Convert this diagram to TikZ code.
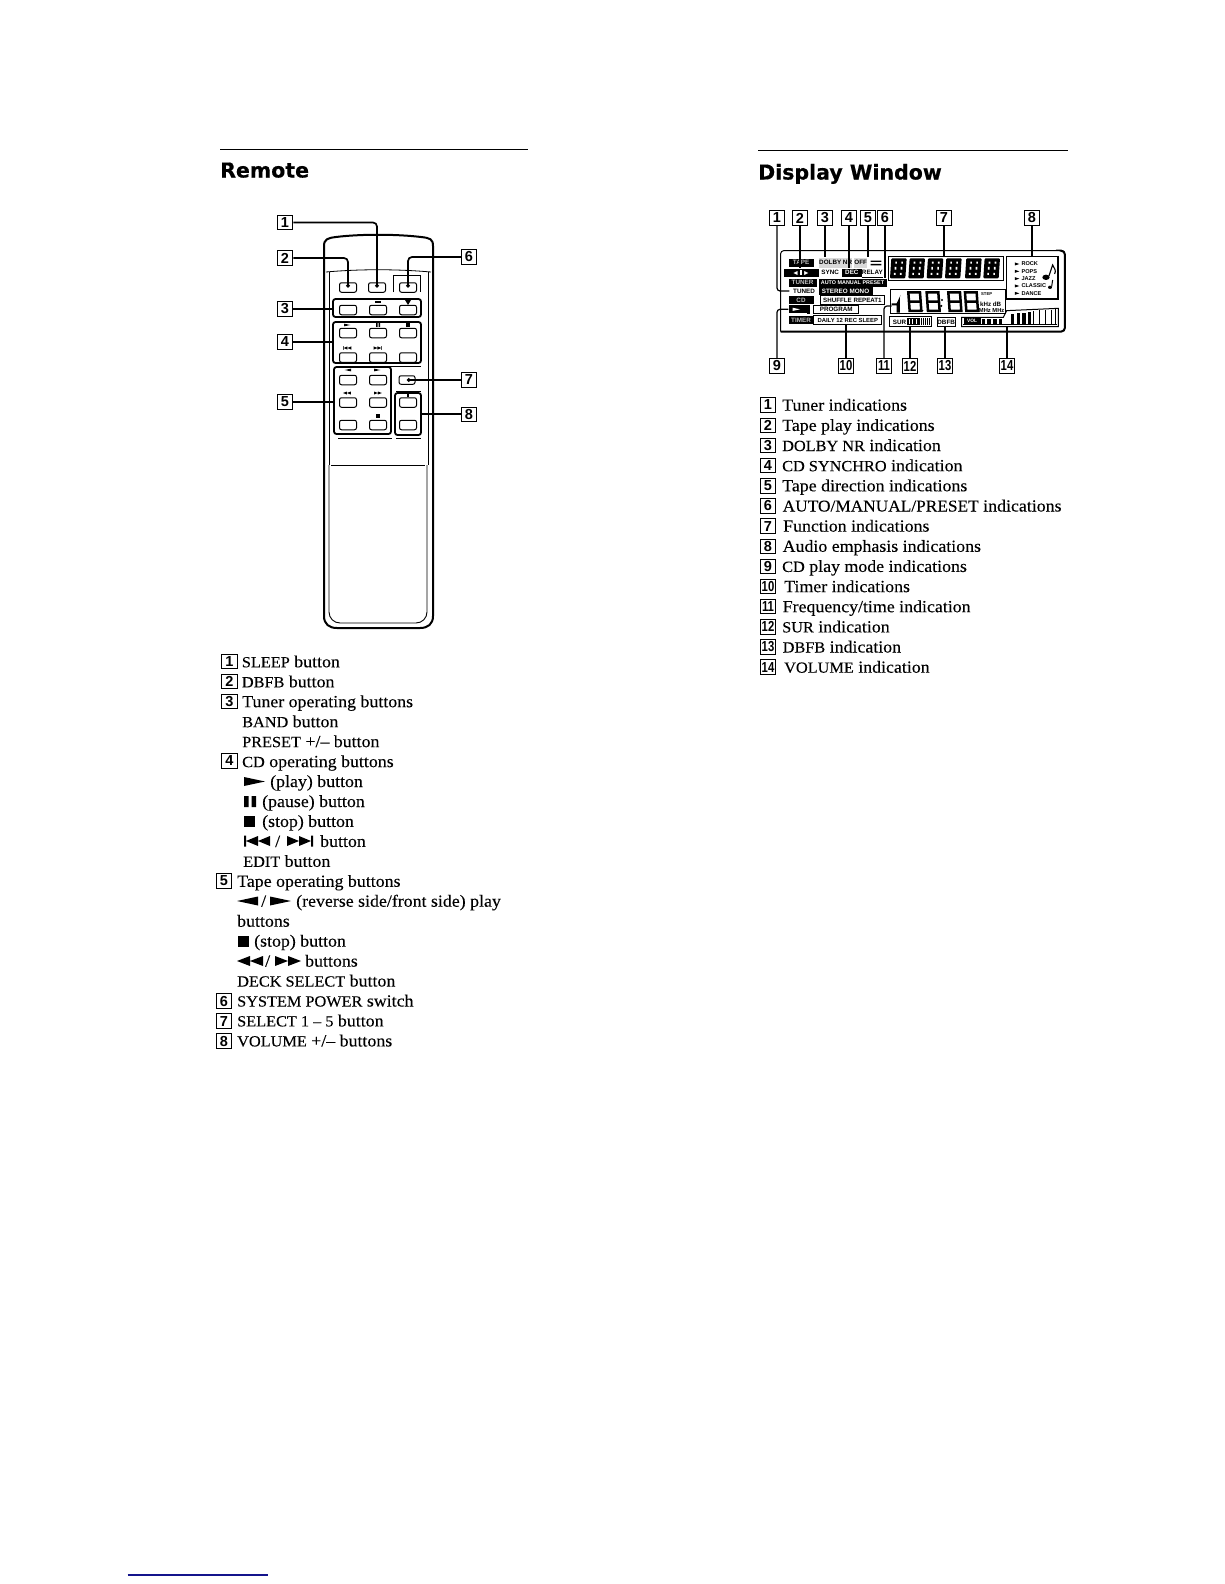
\documentclass[tikz,border=0pt]{standalone}
\usepackage{fontspec}
\usepackage{graphicx}
\usetikzlibrary{arrows.meta}
\setmainfont[FakeStretch=1.05,FakeBold=.12]{Liberation Serif}
\newfontfamily\headfam[BoldFeatures={FakeBold=.5}]{DejaVu Sans}
\newfontfamily\tagfam{Liberation Sans}
\newcommand\capz[1]{{\fontsize{15.5}{15.5}\selectfont #1}}
\tikzset{
  rule/.style={line width=1.5pt,black},
  head/.style={anchor=base west,inner sep=0pt,font=\headfam\bfseries\fontsize{20.5}{20.5}\selectfont},
  tagbox/.style={draw=black,line width=1pt,inner sep=0pt,minimum width=15.5pt,minimum height=14.5pt,font=\tagfam\bfseries\fontsize{14.5}{14.5}\selectfont},
  listtext/.style={anchor=base west,inner sep=0pt,font=\fontsize{17}{17}\selectfont},
  btn/.style={draw=black,line width=1pt,rounded corners=2pt,minimum width=17pt,minimum height=9.5pt,inner sep=0pt},
  grp/.style={draw=black,line width=1.8pt,rounded corners=2.5pt,inner sep=0pt},
  conn/.style={line width=1.7pt,black,rounded corners=4pt},
  dconn/.style={line width=1.2pt,black,rounded corners=3pt},
  ind/.style={inner sep=0pt,anchor=west,minimum height=8pt,font=\tagfam\bfseries\fontsize{6.3}{6.3}\selectfont},
  indw/.style={ind,fill=black,text=white},
  indk/.style={ind,fill=white,text=black},
  symright/.pic={\fill (0,-4.5)--(21,0)--(0,4.5)--cycle;},
  symleft/.pic={\fill (0,-4.5)--(-21,0)--(0,4.5)--cycle;},
  sympause/.pic={\fill (0,-5.5) rectangle (4.5,5.5) (7.5,-5.5) rectangle (12,5.5);},
  symstop/.pic={\fill (0,-5.5) rectangle (11,5.5);},
  symprev/.pic={\fill (0,-5.5) rectangle (2,5.5) (2,0)--(14,-5)--(14,0)--(26,-5)--(26,5)--(14,0)--(14,5)--cycle;},
  symnext/.pic={\fill (26,-5.5) rectangle (28,5.5) (26,0)--(14,-5)--(14,0)--(2,-5)--(2,5)--(14,0)--(14,5)--cycle;},
  symrew/.pic={\fill (0,0)--(13,-5)--(13,0)--(26,-5)--(26,5)--(13,0)--(13,5)--cycle;},
  symff/.pic={\fill (26,0)--(13,-5)--(13,0)--(0,-5)--(0,5)--(13,0)--(13,5)--cycle;},
  seg/.pic={
    \fill[black,rounded corners=1pt] (-20,30)--(26,30)--(30,-30)--(-16,-30)--cycle;
    \fill[white] (-8,14) rectangle (-3,20) (10,14) rectangle (15,20) (-6,-4) rectangle (-1,4) (12,-4) rectangle (17,4) (-4,-20) rectangle (1,-14) (14,-20) rectangle (19,-14);
  },
  bigeight/.pic={
    \draw[black,line width=2.5pt,line join=miter] (-11,28)--(24,28)--(20,-28)--(-15,-28)--cycle (-13,0)--(22,0);
  },
}
\newcommand\litem[4]{\node[listtext] (#1) at (#2,#3) {#4};}
\newcommand\tagat[4]{\node[tagbox] (#1) at (#2,#3) {#4};}
\newcommand\twod[1]{\scalebox{.78}[1]{#1}}
\begin{document}
\begin{tikzpicture}[x=1pt,y=-1pt]
\path[use as bounding box,fill=white] (0,0) rectangle (1224,1584);

% headings
\node[inner sep=0pt] (ruleAl) at (219.5,149.5) {};
\node[inner sep=0pt] (ruleAr) at (529,149.5) {};
\node[inner sep=0pt] (ruleBl) at (757.7,150.5) {};
\node[inner sep=0pt] (ruleBr) at (1069,150.5) {};
\draw[rule] (ruleAl) -- (ruleAr);
\draw[rule] (ruleBl) -- (ruleBr);
\node[head] (hRemote) at (220,177.5) {Remote};
\node[head] (hDisplay) at (758,179.5) {Display Window};

% ---------- remote body
\draw[black,line width=2pt] (324,616)--(324,246) .. controls (324,239) and (328,238) .. (336,237) .. controls (360,234) and (396,234) .. (421,237) .. controls (430,238) and (433,239) .. (433,246)--(433,616) .. controls (433,624) and (428,628) .. (420,628)--(337,628) .. controls (329,628) and (324,624) .. (324,616)--cycle;
\draw[black,line width=.8pt] (326,272) .. controls (360,269) and (396,269) .. (431,272);
\draw[black,line width=.8pt] (329,272)--(329,465);
\draw[black,line width=.8pt] (428,272)--(428,465);
\draw[black,line width=.9pt] (331,465)--(425,465);
\draw[black,line width=.9pt,rounded corners=11pt] (329,465)--(329,623)--(427,623)--(427,465);
\draw[black,line width=.8pt] (393,292)--(393,275)--(420,275)--(420,292);
\draw[black,line width=1pt] (338,438)--(392,438);
\draw[black,line width=1pt] (396,438)--(421,438);
\draw[black,line width=.8pt] (396,391)--(421,391);
\draw[black,line width=.8pt] (363,366)--(421,366);

% groups
\node[grp,minimum width=88pt,minimum height=18pt] (box3) at (377,308) {};
\node[grp,minimum width=88pt,minimum height=41pt] (box4) at (377,342.5) {};
\node[grp,minimum width=57pt,minimum height=67pt] (box5) at (362.5,400.5) {};
\node[grp,minimum width=26pt,minimum height=42pt] (box8) at (408,414) {};

% buttons
\node[btn] (bDbfb) at (348,287.5) {};
\node[btn] (bSleep) at (377,287.5) {};
\node[btn] (bPower) at (408,287.5) {};
\foreach \n/\x in {a/348,b/378,c/408}{\node[btn] (t\n) at (\x,310) {};}
\foreach \n/\x in {a/348,b/378,c/408}{\node[btn] (cd\n) at (\x,333) {};}
\foreach \n/\x in {a/348,b/378,c/408}{\node[btn] (ce\n) at (\x,357.5) {};}
\foreach \n/\x in {a/348,b/378}{
  \node[btn] (tf\n) at (\x,380) {};
  \node[btn] (tg\n) at (\x,402.5) {};
  \node[btn] (th\n) at (\x,425) {};
}
\node[btn,minimum width=16pt,minimum height=8.5pt] (bSelect) at (407,380) {};
\node[btn] (bVolUp) at (408,402.5) {};
\node[btn] (bVolDn) at (408,425) {};

% small marks above buttons
\fill (375,301) rectangle (381,303);
\fill (405,300)--(411,300)--(408,305)--cycle;
\pic[scale=.3] at (344,325) {symright};
\pic[scale=.35] at (376,325) {sympause};
\pic[scale=.4] at (406,325) {symstop};
\pic[scale=.32] at (343,348) {symprev};
\pic[scale=.32] at (373,348) {symnext};
\pic[scale=.3] at (351,370) {symleft};
\pic[scale=.3] at (374,370) {symright};
\pic[scale=.3] at (343,393) {symrew};
\pic[scale=.3] at (374,393) {symff};
\pic[scale=.4] at (376,416) {symstop};
\fill (407,392.5) rectangle (408.5,397);

% remote tags
\tagat{ra}{285}{222.5}{1}
\tagat{rb}{285}{258}{2}
\tagat{rc}{285}{309}{3}
\tagat{rd}{285}{342}{4}
\tagat{re}{285}{402}{5}
\tagat{rf}{469}{257}{6}
\tagat{rg}{469}{380}{7}
\tagat{rh}{469}{414.5}{8}

\draw[conn,-{Circle[length=3.5pt,width=3.5pt]}] (ra.east) -| (bSleep.center);
\draw[conn,-{Circle[length=3.5pt,width=3.5pt]}] (rb.east) -| (bDbfb.center);
\draw[conn,-{Circle[length=3.5pt,width=3.5pt]}] (rf.west) -| (bPower.center);
\draw[conn] (rc.east) -- (rc.east -| box3.west);
\draw[conn] (rd.east) -- (rd.east -| box4.west);
\draw[conn] (re.east) -- (re.east -| box5.west);
\draw[conn,{Circle[length=3.5pt,width=3.5pt]}-] (bSelect.center) -- (rg.west);
\draw[conn] (box8.east) -- (box8.east -| rh.west);

% ---------- display window
\begin{scope}[shift={(750,200)},x=.3333pt,y=-.3333pt]
  \draw[black,line width=1pt,rounded corners=3pt] (92,395)--(92,152)--(940,152);
  \draw[black,line width=2pt,rounded corners=4pt] (935,152)--(945,152)--(945,395)--(92,395);
  % left column black indicators
  \node[indw,minimum width=25pt,text=gray!50] (dTape) at (115,188) {TAPE};
  \node[indw,minimum width=35pt,font=\tagfam\bfseries\fontsize{7}{7}\selectfont] (dDir) at (100,218) {\char"25C4\,\rule{1.4pt}{5pt}\,\char"25BA};
  \node[indw,minimum width=28pt,text=gray!50] (dTuner) at (115,248) {TUNER};
  \node[indk,minimum width=29pt] (dTuned) at (118,273) {TUNED};
  \node[indw,minimum width=25pt,text=gray!50] (dCd) at (115,300) {CD};
  \node[indw,minimum width=21pt] (dPlay) at (115,328) {};
  \pic[white,scale=1.05] at (128,328) {symright};
  \fill (170,316) rectangle (180,342);
  \node[indw,minimum width=25pt,text=gray!50] (dTimer) at (115,360) {TIMER};
  % second column
  \node[indk,minimum width=32pt,minimum height=10pt,fill=gray!30] (dDolby) at (207,188) {DOLBY NR};
  \node[indk,minimum width=13pt,minimum height=10pt,fill=gray!30] (dOff) at (312,188) {OFF};
  \fill (362,182) rectangle (394,186) (362,192) rectangle (394,196);
  \node[indk,minimum width=22pt] (dSync) at (207,218) {SYNC};
  \node[indw,minimum width=20pt] (dDec) at (275,218) {DEC};
  \node[indk,minimum width=21pt] (dRelay) at (335,218) {RELAY};
  \draw[black,line width=.6pt] (dRelay.south west) -- (dRelay.south east);
  \node[indw,minimum width=68pt,font=\tagfam\bfseries\fontsize{5.4}{5.4}\selectfont] (dAuto) at (205,248) {AUTO MANUAL PRESET};
  \node[indw,minimum width=54pt] (dStereo) at (205,273) {STEREO MONO};
  \node[indk,draw=black,line width=.9pt,minimum width=64pt,minimum height=9pt,font=\tagfam\bfseries\fontsize{6.2}{6.2}\selectfont] (dShuffle) at (210,301) {SHUFFLE REPEAT1};
  \node[indk,draw=black,line width=.9pt,minimum width=45pt,minimum height=8.5pt] (dProgram) at (190,328) {PROGRAM};
  \node[indk,draw=black,line width=.9pt,minimum width=68pt,minimum height=9pt,font=\tagfam\bfseries\fontsize{5.9}{5.9}\selectfont] (dDaily) at (190,361) {DAILY 12 REC SLEEP};
  % 14-segment row
  \draw[black,line width=.7pt] (415,240)--(415,168)--(760,168)--(760,240)--cycle;
  \foreach \x in {440,495,550,605,665,720}{\pic at (\x,205) {seg};}
  \coordinate (dFunc) at (585,170);
  % frequency display
  \draw[black,line width=.7pt] (420,340)--(420,268)--(765,268)--(765,340)--cycle;
  \fill (452,285)--(440,310)--(425,310)--(425,316)--(440,316)--(440,338)--(450,338)--(450,290)--cycle;
  \foreach \x in {490,545,610,660}{\pic at (\x,305) {bigeight};}
  \fill (576,300) circle (3.5) (574,318) circle (3.5);
  \fill (518,332) circle (2.5);
  \node[ind,anchor=center,font=\tagfam\bfseries\fontsize{4.2}{4.2}\selectfont] (dStep) at (710,281) {STEP};
  \node[ind,anchor=center,font=\tagfam\bfseries\fontsize{6.2}{6.2}\selectfont] (dKhz) at (722,312) {kHz dB};
  \node[ind,anchor=center,font=\tagfam\bfseries\fontsize{5.8}{5.8}\selectfont] (dMhz) at (725,331) {MHz MHz};
  \coordinate (dFreq) at (425,318);
  % SUR
  \draw[black,line width=1pt] (418,350) rectangle (545,380);
  \node[indk,minimum width=18pt] (dSur) at (421,366) {SUR};
  \fill (470,354) rectangle (510,376);
  \foreach \x in {515,521,527,533,539}{\draw[black,line width=.8pt] (\x,354)--(\x,376);}
  \foreach \x in {478,488,498}{\draw[white,line width=.6pt] (\x,358)--(\x,373);}
  \coordinate (dSurBot) at (482,380);
  % DBFB
  \node[indk,draw=black,line width=1pt,minimum width=18pt,minimum height=9pt] (dDbfb) at (560,367) {DBFB};
  % VOL
  \draw[black,line width=1pt] (635,380)--(635,352)--(760,352)--(770,332)--(925,325)--(925,380)--cycle;
  \node[indw,minimum width=17pt,minimum height=8pt,font=\tagfam\bfseries\fontsize{4.8}{4.8}\selectfont] (dVol) at (640,364) {VOL};
  \foreach \x in {695,712,729,746}{\fill (\x,358) rectangle (\x+11,372);}
  \foreach \x/\t in {782/342,800/340,817/338,834/335}{\fill (\x,\t) rectangle (\x+10,372);}
  \foreach \x/\t in {852/332,870/331,887/330,904/329}{\draw[black,line width=1pt] (\x,\t) -- (\x,372);}
  \draw[black,line width=1pt] (918,328)--(918,372);
  \draw[black,line width=1.4pt] (640,374)--(922,374);
  \coordinate (dVolBot) at (772,380);
  % audio box
  \draw[black,line width=.8pt] (768,295)--(768,168)--(925,168);
  \draw[black,line width=1.8pt] (925,168)--(925,297)--(768,297);
  \foreach \n/\y/\t in {a/192/ROCK,b/214/POPS,c/236/JAZZ,d/258/CLASSIC,e/280/DANCE}{
    \fill (795,\y-4.5)--(808,\y)--(795,\y+4.5)--cycle;
    \node[ind,anchor=west,font=\tagfam\bfseries\fontsize{5.6}{5.6}\selectfont] (au\n) at (814,\y) {\t};
  }
  \fill (888,232) ellipse (11 and 8);
  \fill (900,262) ellipse (6 and 5);
  \draw[black,line width=1.1pt] (897,228)--(908,195) .. controls (912,205) and (920,210) .. (914,222);
  \draw[black,line width=1pt] (905,260)--(908,240);
  \coordinate (dAudio) at (845,170);
\end{scope}

% display tags
\tagat{da}{777}{218}{1}
\tagat{db}{800}{218}{2}
\tagat{dc}{825}{218}{3}
\tagat{dd}{849}{218}{4}
\tagat{de}{868}{218}{5}
\tagat{df}{885}{218}{6}
\tagat{dg}{944}{218}{7}
\tagat{dh}{1032}{218}{8}
\tagat{di}{777}{366}{9}
\tagat{dj}{846}{366}{\twod{10}}
\tagat{dk}{884}{366}{\twod{11}}
\tagat{dl}{910}{366}{\twod{12}}
\tagat{dm}{945}{366}{\twod{13}}
\tagat{dn}{1007}{366}{\twod{14}}

\draw[dconn] (da.south) |- (dTuned.west);
\draw[dconn] (db.south) -- (db.south |- dDir.north);
\draw[dconn] (dc.south) -- (dc.south |- dDolby.north);
\draw[dconn] (dd.south) -- (dd.south |- dDec.north);
\draw[dconn] (de.south) -- (de.south |- dOff.north);
\draw[dconn] (df.south) -- (df.south |- dAuto.north);
\draw[dconn] (dg.south) -- (dg.south |- dFunc);
\draw[dconn] (dh.south) -- (dh.south |- dAudio);
\draw[dconn] (di.north) |- (dPlay.west);
\draw[dconn] (dj.north) -- (dj.north |- dDaily.south);
\draw[dconn] (dk.north) |- (dFreq);
\draw[dconn] (dl.north) -- (dl.north |- dSurBot);
\draw[dconn] (dm.north) -- (dm.north |- dDbfb.south);
\draw[dconn] (dn.north) -- (dn.north |- dVolBot);

% ---------- remote list
\tagat{la}{229.5}{661.5}{1}
\tagat{lb}{229.5}{681.5}{2}
\tagat{lc}{229.5}{701.5}{3}
\tagat{ld}{229.5}{761}{4}
\tagat{le}{224}{881}{5}
\tagat{lf}{224}{1001}{6}
\tagat{lg}{224}{1021}{7}
\tagat{lh}{224}{1041}{8}
\litem{t1}{241.7}{667.3}{\capz{SLEEP} button}
\litem{t2}{241.7}{687.3}{\capz{DBFB} button}
\litem{t3}{242}{707.2}{Tuner operating buttons}
\litem{t4}{242}{727.2}{\capz{BAND} button}
\litem{t5}{242}{747.1}{\capz{PRESET} +/– button}
\litem{t6}{242}{767.1}{\capz{CD} operating buttons}
\pic at (244,781.5) {symright};
\litem{t7}{270}{787}{(play) button}
\pic at (244,801.5) {sympause};
\litem{t8}{262}{807}{(pause) button}
\pic at (244,821) {symstop};
\litem{t9}{262}{826.9}{(stop) button}
\pic at (244,841) {symprev};
\litem{t10a}{275}{846.9}{/}
\pic at (285,841) {symnext};
\litem{t10}{320}{846.9}{button}
\litem{t11}{243}{866.8}{\capz{EDIT} button}
\litem{t12}{237}{886.8}{Tape operating buttons}
\pic at (258,901) {symleft};
\litem{t13a}{261}{906.7}{/}
\pic at (270,901) {symright};
\litem{t13}{296}{906.7}{(reverse side/front side) play}
\litem{t14}{237}{926.7}{buttons}
\pic at (237.5,941) {symstop};
\litem{t15}{254}{946.6}{(stop) button}
\pic at (237,961) {symrew};
\litem{t16a}{265}{966.6}{/}
\pic at (275,961) {symff};
\litem{t16}{305}{966.6}{buttons}
\litem{t17}{237}{986.5}{\capz{DECK SELECT} button}
\litem{t18}{237}{1006.5}{\capz{SYSTEM POWER} switch}
\litem{t19}{237}{1026.4}{\capz{SELECT 1 – 5} button}
\litem{t20}{237}{1046.4}{\capz{VOLUME} +/– buttons}

% ---------- display list
\tagat{ma}{768}{405}{1}
\tagat{mb}{768}{425.3}{2}
\tagat{mc}{768}{445.5}{3}
\tagat{md}{768}{465.7}{4}
\tagat{me}{768}{485.8}{5}
\tagat{mf}{768}{506}{6}
\tagat{mg}{768}{526.1}{7}
\tagat{mh}{768}{546.3}{8}
\tagat{mi}{768}{566.4}{9}
\tagat{mj}{768}{586.6}{\twod{10}}
\tagat{mk}{768}{606.7}{\twod{11}}
\tagat{ml}{768}{626.9}{\twod{12}}
\tagat{mm}{768}{647}{\twod{13}}
\tagat{mn}{768}{667.2}{\twod{14}}
\litem{u1}{782}{410.7}{Tuner indications}
\litem{u2}{782}{430.9}{Tape play indications}
\litem{u3}{782}{451}{\capz{DOLBY NR} indication}
\litem{u4}{782}{471.2}{\capz{CD SYNCHRO} indication}
\litem{u5}{782}{491.3}{Tape direction indications}
\litem{u6}{782.5}{511.5}{{\fontsize{16.5}{16.5}\selectfont AUTO/MANUAL/PRESET} indications}
\litem{u7}{783}{531.6}{Function indications}
\litem{u8}{782.5}{551.8}{Audio emphasis indications}
\litem{u9}{782}{571.9}{\capz{CD} play mode indications}
\litem{u10}{784}{592.1}{Timer indications}
\litem{u11}{782.5}{612.2}{Frequency/time indication}
\litem{u12}{782}{632.4}{\capz{SUR} indication}
\litem{u13}{782.5}{652.5}{\capz{DBFB} indication}
\litem{u14}{784}{672.7}{\capz{VOLUME} indication}

% page-edge rule
\node[inner sep=0pt] (blueL) at (127,1575) {};
\node[inner sep=0pt] (blueR) at (269,1575) {};
\draw[line width=1.2pt,color={rgb,255:red,20;green,20;blue,140}] (blueL) -- (blueR);
\end{tikzpicture}
\end{document}
